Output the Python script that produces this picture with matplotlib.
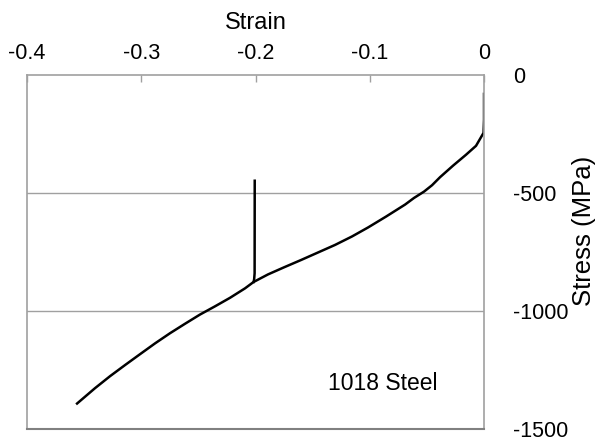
import matplotlib
matplotlib.use('Agg')
import matplotlib.pyplot as plt

plt.rcParams['font.family'] = ['Liberation Sans', 'DejaVu Sans']

# compression test, 1018 steel
strain = [0.0, 0.0, -0.0004, -0.0070, -0.0158, -0.0271, -0.0385, -0.0455,
          -0.0525, -0.0613, -0.0691, -0.0858, -0.1015, -0.1155, -0.1304,
          -0.1453, -0.1602, -0.1751, -0.1891, -0.2017, -0.2092, -0.2223,
          -0.2354, -0.2486, -0.2617, -0.2748, -0.2879, -0.3011, -0.3142,
          -0.3273, -0.3405, -0.3562]
stress = [-80, -190, -245, -300, -338, -384, -433, -467,
          -494, -521, -549, -600, -646, -684, -720,
          -752, -784, -815, -845, -877, -904, -944,
          -980, -1015, -1054, -1094, -1137, -1183, -1229,
          -1276, -1327, -1392]

# unloading branch at 20 % strain
unload_strain = [-0.2017, -0.2012, -0.2008, -0.2007]
unload_stress = [-877, -865, -840, -448]

x_ticks = [-0.4, -0.3, -0.2, -0.1, 0]
x_labels = ['-0.4', '-0.3', '-0.2', '-0.1', '0']
y_ticks = [0, -500, -1000, -1500]
y_labels = ['0', '-500', '-1000', '-1500']

fig = plt.figure(figsize=(5.98, 4.41), dpi=100)
ax = fig.add_axes([0.0452, 0.0272, 0.7642, 0.8027])

ax.plot(strain, stress, color='black', lw=1.8, solid_joinstyle='round')
ax.plot(unload_strain, unload_stress, color='black', lw=1.8,
        solid_joinstyle='round')

ax.set_xlim(-0.4, 0)
ax.set_ylim(-1500, 0)

ax.xaxis.tick_top()
ax.xaxis.set_label_position('top')
ax.set_xticks(x_ticks)
ax.set_xticklabels(x_labels)
ax.tick_params(axis='x', direction='in', length=5, width=1, color='#a0a0a0',
               labelsize=15.5, pad=8)
ax.set_xlabel('Strain', fontsize=17, labelpad=10)

ax.yaxis.tick_right()
ax.set_yticks(y_ticks)
ax.set_yticklabels(y_labels)
ax.tick_params(axis='y', length=0, labelsize=15.5, pad=21)

for y in [-500, -1000]:
    ax.axhline(y, color='#a0a0a0', lw=1, zorder=0)

for side in ['top', 'left', 'right']:
    ax.spines[side].set_color('#a0a0a0')
    ax.spines[side].set_linewidth(1.2)
ax.spines['bottom'].set_color('#808080')
ax.spines['bottom'].set_linewidth(1.5)

fig.text(584 / 598, 1 - 231 / 441, 'Stress (MPa)', rotation=90, fontsize=18.5,
         ha='center', va='center')
ax.text(-0.0411, -1309, '1018 Steel', fontsize=16.5, ha='right', va='center')

fig.savefig('out.png', dpi=100)
